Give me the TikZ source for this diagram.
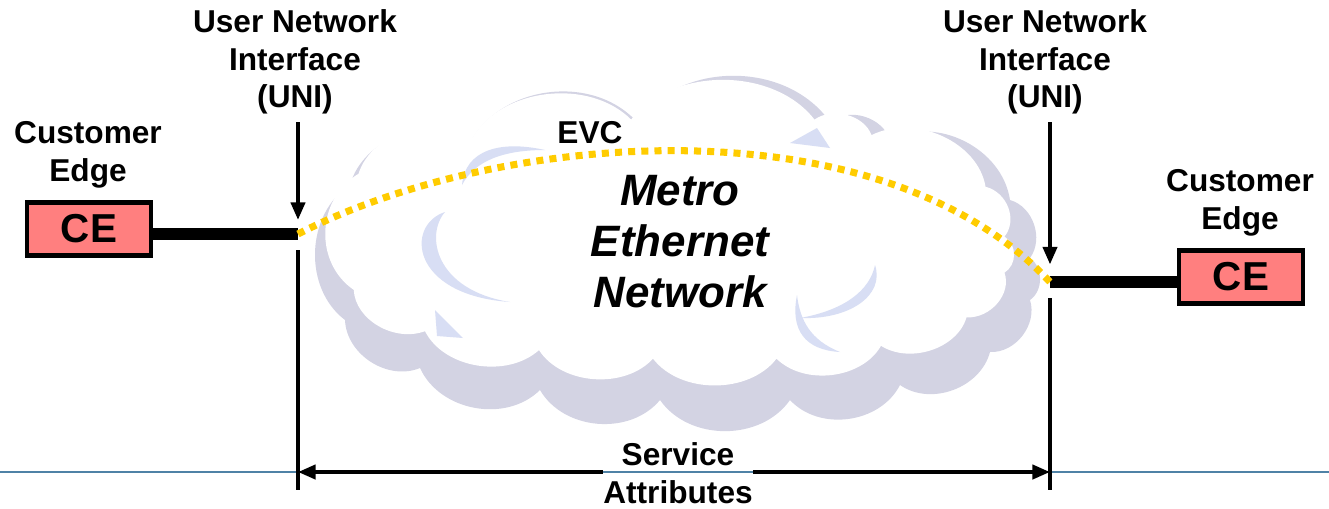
\documentclass[tikz,border=0pt]{standalone}
\usepackage{fontspec}
\setmainfont{Liberation Sans}
\usetikzlibrary{arrows.meta}

\definecolor{cepink}{HTML}{FF7F7F}
\definecolor{evcyellow}{HTML}{FFCC00}
\definecolor{cloudshade}{HTML}{D3D3E3}
\definecolor{cloudlight}{HTML}{D8DEF4}
\definecolor{rulerblue}{HTML}{4F82A6}

% outline of the cloud, valley to valley
\newcommand{\cloudoutline}{(350,185) to[puffarc] (470,143) to[puffarc] (637,122)
    to[puffarc] (830,122) to[puffarc] (890,140) to[puffarc] (1010,200)
    to[puffarc] (1030,258) to[puffarc] (1030,300) to[puffarc] (990,352)
    to[puffarc] (900,385) to[puffarc] (790,400) to[puffarc] (660,400)
    to[puffarc] (540,390) to[puffarc] (420,368) to[puffarc] (345,320)
    to[puffarc] (350,185) -- cycle}

\tikzset{
    lbl/.style={font=\bfseries\fontsize{18}{21.5}\selectfont, align=center, inner sep=0pt},
    cebox/.style={draw, line width=2.3pt, fill=cepink, minimum width=2.48cm,
        minimum height=1.06cm, inner sep=0pt, font=\bfseries\fontsize{23}{27}\selectfont},
    puffarc/.style={bend left=55},
    uniline/.style={line width=2.2pt},
    tip/.style={-{Triangle[length=10pt,width=8pt]}},
}

\begin{document}
\begin{tikzpicture}[x=0.02cm,y=-0.02cm]
        \useasboundingbox (0,0) rectangle (1329,508);

        % ruler line along the bottom
        \draw[rulerblue, line width=1.2pt] (0,472) -- (1329,472);

        % cloud with its shadow and highlights
        \fill[cloudshade] \cloudoutline;
        \begin{scope}[shift={(672,240)}, xscale=0.95, yscale=0.86, shift={(-680,-262)}]
            \fill[white] \cloudoutline;
        \end{scope}
        \fill[cloudlight] (445,212) .. controls (405,225) and (410,295) .. (510,302)
            .. controls (435,290) and (425,235) .. (445,212);
        \fill[cloudlight] (462,185) .. controls (465,150) and (500,140) .. (545,150)
            .. controls (505,150) and (475,160) .. (462,185);
        \fill[cloudlight] (875,265) .. controls (885,295) and (850,320) .. (800,318)
            .. controls (845,310) and (870,290) .. (875,265);
        \fill[cloudlight] (797,295) .. controls (790,330) and (805,350) .. (840,352)
            .. controls (810,340) and (800,320) .. (797,295);
        \fill[cloudlight] (435,310) -- (463,338) -- (437,336) -- cycle;
        \fill[cloudlight] (790,143) -- (817,128) -- (830,148) -- cycle;
        \node[font=\bfseries\itshape\fontsize{25}{29}\selectfont, align=center] (men) at (680,242)
            {Metro\\Ethernet\\Network};

        % customer edges
        \node[cebox] (ceL) at (89,229) {CE};
        \node[cebox] (ceR) at (1241,277) {CE};
        \node[lbl] (custL) at (88,155) {Customer\\Edge};
        \node[lbl] (custR) at (1240,203) {Customer\\Edge};

        % interfaces
        \node[lbl] (uniLlbl) at (295,62) {User Network\\Interface\\(UNI)};
        \node[lbl] (uniRlbl) at (1045,62) {User Network\\Interface\\(UNI)};
        \coordinate (uniL) at (298,234);
        \coordinate (uniR) at (1050,282);
        \coordinate (uniLbot) at (298,490);
        \coordinate (uniRbot) at (1050,490);

        \draw[line width=6.5pt] (ceL.east |- uniL) -- (uniL);
        \draw[line width=6.5pt] (ceR.west |- uniR) -- (uniR);

        \draw[uniline, tip, shorten >=8pt] (uniL |- 0,122) -- (uniL);
        \draw[uniline, tip, shorten >=10pt] (uniR |- 0,122) -- (uniR);
        \draw[uniline] ([yshift=-0.32cm]uniL) -- (uniLbot);
        \draw[uniline] ([yshift=-0.32cm]uniR) -- (uniRbot);

        % the EVC
        \draw[evcyellow, line width=4pt, dash pattern=on 4pt off 3.5pt]
            (uniL) .. controls (500,130) and (880,100) .. (uniR);
        \node[lbl] (evc) at (590,133) {EVC};

        % service attributes
        \node[lbl] (svc) at (678,473) {Service\\Attributes};
        \draw[uniline, tip] (svc.west |- 0,472) -- (uniL |- 0,472);
        \draw[uniline, tip] (svc.east |- 0,472) -- (uniR |- 0,472);
    \end{tikzpicture}
\end{document}
